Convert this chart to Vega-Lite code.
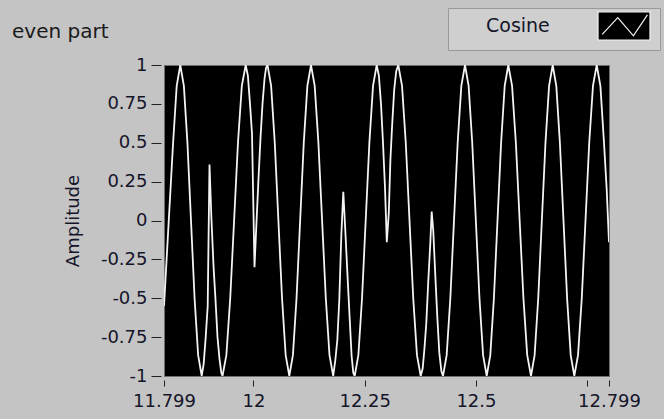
{
  "$schema": "https://vega.github.io/schema/vega-lite/v6.json",
  "width": 445,
  "height": 311,
  "autosize": {"type": "none"},
  "padding": {"left": 164, "top": 65, "right": 55, "bottom": 43},
  "background": "#c4c4c4",
  "title": {
    "text": "even part",
    "anchor": "start",
    "frame": "group",
    "orient": "top",
    "dx": -152,
    "dy": 58,
    "offset": 24,
    "font": "DejaVu Sans",
    "fontSize": 20,
    "fontWeight": "normal",
    "color": "#1a1a1a"
  },
  "data": {
    "values": [
      {"t": 11.799, "amplitude": -0.55},
      {"t": 11.81945, "amplitude": 0.5},
      {"t": 11.82754, "amplitude": 0.866},
      {"t": 11.83563, "amplitude": 1},
      {"t": 11.84365, "amplitude": 0.866},
      {"t": 11.85165, "amplitude": 0.5},
      {"t": 11.8677, "amplitude": -0.5},
      {"t": 11.8757, "amplitude": -0.866},
      {"t": 11.88372, "amplitude": -1},
      {"t": 11.88821, "amplitude": -0.92},
      {"t": 11.89271, "amplitude": -0.75},
      {"t": 11.8972, "amplitude": -0.55},
      {"t": 11.90125, "amplitude": 0.36},
      {"t": 11.90529, "amplitude": 0.03},
      {"t": 11.91024, "amplitude": -0.29},
      {"t": 11.91473, "amplitude": -0.51},
      {"t": 11.91922, "amplitude": -0.75},
      {"t": 11.92372, "amplitude": -0.89},
      {"t": 11.92776, "amplitude": -0.98},
      {"t": 11.93046, "amplitude": -1},
      {"t": 11.93916, "amplitude": -0.866},
      {"t": 11.94783, "amplitude": -0.5},
      {"t": 11.96522, "amplitude": 0.5},
      {"t": 11.9739, "amplitude": 0.866},
      {"t": 11.9826, "amplitude": 1},
      {"t": 11.98754, "amplitude": 0.93},
      {"t": 11.99226, "amplitude": 0.75},
      {"t": 11.99675, "amplitude": 0.56},
      {"t": 12.00237, "amplitude": -0.3},
      {"t": 12.00687, "amplitude": -0.01},
      {"t": 12.01136, "amplitude": 0.27},
      {"t": 12.01585, "amplitude": 0.53},
      {"t": 12.02035, "amplitude": 0.75},
      {"t": 12.02484, "amplitude": 0.91},
      {"t": 12.02821, "amplitude": 0.98},
      {"t": 12.03158, "amplitude": 1},
      {"t": 12.03974, "amplitude": 0.866},
      {"t": 12.04792, "amplitude": 0.5},
      {"t": 12.06424, "amplitude": -0.5},
      {"t": 12.07242, "amplitude": -0.866},
      {"t": 12.08057, "amplitude": -1},
      {"t": 12.08871, "amplitude": -0.866},
      {"t": 12.09682, "amplitude": -0.5},
      {"t": 12.11309, "amplitude": 0.5},
      {"t": 12.1212, "amplitude": 0.866},
      {"t": 12.12934, "amplitude": 1},
      {"t": 12.13765, "amplitude": 0.866},
      {"t": 12.14597, "amplitude": 0.5},
      {"t": 12.1626, "amplitude": -0.5},
      {"t": 12.17091, "amplitude": -0.866},
      {"t": 12.17922, "amplitude": -1},
      {"t": 12.18394, "amplitude": -0.9},
      {"t": 12.18844, "amplitude": -0.77},
      {"t": 12.19293, "amplitude": -0.51},
      {"t": 12.19743, "amplitude": -0.1},
      {"t": 12.20192, "amplitude": 0.185},
      {"t": 12.20619, "amplitude": -0.05},
      {"t": 12.21113, "amplitude": -0.34},
      {"t": 12.21608, "amplitude": -0.62},
      {"t": 12.22057, "amplitude": -0.87},
      {"t": 12.22439, "amplitude": -0.98},
      {"t": 12.22754, "amplitude": -1},
      {"t": 12.23579, "amplitude": -0.866},
      {"t": 12.24401, "amplitude": -0.5},
      {"t": 12.26051, "amplitude": 0.5},
      {"t": 12.26873, "amplitude": 0.866},
      {"t": 12.27698, "amplitude": 1},
      {"t": 12.28192, "amplitude": 0.93},
      {"t": 12.28664, "amplitude": 0.75},
      {"t": 12.29113, "amplitude": 0.5},
      {"t": 12.29563, "amplitude": 0.21},
      {"t": 12.29967, "amplitude": -0.14},
      {"t": 12.30417, "amplitude": 0.05},
      {"t": 12.30776, "amplitude": 0.39},
      {"t": 12.31181, "amplitude": 0.62},
      {"t": 12.3163, "amplitude": 0.84},
      {"t": 12.3208, "amplitude": 0.96},
      {"t": 12.32552, "amplitude": 1},
      {"t": 12.3339, "amplitude": 0.866},
      {"t": 12.3423, "amplitude": 0.5},
      {"t": 12.35907, "amplitude": -0.5},
      {"t": 12.36747, "amplitude": -0.866},
      {"t": 12.37585, "amplitude": -1},
      {"t": 12.38035, "amplitude": -0.95},
      {"t": 12.38439, "amplitude": -0.82},
      {"t": 12.38844, "amplitude": -0.66},
      {"t": 12.39271, "amplitude": -0.4},
      {"t": 12.3972, "amplitude": -0.16},
      {"t": 12.40057, "amplitude": 0.057},
      {"t": 12.40417, "amplitude": -0.07},
      {"t": 12.40844, "amplitude": -0.34},
      {"t": 12.41316, "amplitude": -0.62},
      {"t": 12.41765, "amplitude": -0.85},
      {"t": 12.42237, "amplitude": -0.97},
      {"t": 12.42597, "amplitude": -1},
      {"t": 12.43421, "amplitude": -0.866},
      {"t": 12.44244, "amplitude": -0.5},
      {"t": 12.45893, "amplitude": 0.5},
      {"t": 12.46716, "amplitude": 0.866},
      {"t": 12.4754, "amplitude": 1},
      {"t": 12.48354, "amplitude": 0.866},
      {"t": 12.49165, "amplitude": 0.5},
      {"t": 12.50792, "amplitude": -0.5},
      {"t": 12.51603, "amplitude": -0.866},
      {"t": 12.52417, "amplitude": -1},
      {"t": 12.53226, "amplitude": -0.866},
      {"t": 12.54035, "amplitude": -0.5},
      {"t": 12.55653, "amplitude": 0.5},
      {"t": 12.56462, "amplitude": 0.866},
      {"t": 12.57271, "amplitude": 1},
      {"t": 12.5812, "amplitude": 0.866},
      {"t": 12.58972, "amplitude": 0.5},
      {"t": 12.60671, "amplitude": -0.5},
      {"t": 12.61522, "amplitude": -0.866},
      {"t": 12.62372, "amplitude": -1},
      {"t": 12.63185, "amplitude": -0.866},
      {"t": 12.63997, "amplitude": -0.5},
      {"t": 12.65624, "amplitude": 0.5},
      {"t": 12.66435, "amplitude": 0.866},
      {"t": 12.67248, "amplitude": 1},
      {"t": 12.68057, "amplitude": 0.866},
      {"t": 12.68866, "amplitude": 0.5},
      {"t": 12.70484, "amplitude": -0.5},
      {"t": 12.71293, "amplitude": -0.866},
      {"t": 12.72102, "amplitude": -1},
      {"t": 12.7294, "amplitude": -0.866},
      {"t": 12.73781, "amplitude": -0.5},
      {"t": 12.75457, "amplitude": 0.5},
      {"t": 12.76298, "amplitude": 0.866},
      {"t": 12.77136, "amplitude": 1},
      {"t": 12.77967, "amplitude": 0.866},
      {"t": 12.78776, "amplitude": 0.5},
      {"t": 12.79383, "amplitude": 0.2},
      {"t": 12.799, "amplitude": -0.14}
    ]
  },
  "mark": {"type": "line", "strokeWidth": 1.8, "clip": true},
  "encoding": {
    "x": {
      "field": "t",
      "type": "quantitative",
      "scale": {"domain": [11.799, 12.799], "nice": false, "zero": false},
      "axis": {
        "title": null,
        "values": [11.799, 12, 12.25, 12.5, 12.75, 12.799],
        "labelExpr": "datum.value == 12.75 ? '' : '' + datum.value",
        "domain": false,
        "grid": false,
        "offset": 4,
        "tickSize": 6,
        "tickColor": "#222222",
        "labelPadding": 6,
        "labelFont": "DejaVu Sans",
        "labelFontSize": 18,
        "labelColor": "#15152a",
        "labelOverlap": false,
        "labelFlush": false
      }
    },
    "y": {
      "field": "amplitude",
      "type": "quantitative",
      "scale": {"domain": [-1, 1], "nice": false, "zero": false},
      "axis": {
        "title": "Amplitude",
        "values": [-1, -0.75, -0.5, -0.25, 0, 0.25, 0.5, 0.75, 1],
        "labelExpr": "'' + datum.value",
        "domain": false,
        "grid": false,
        "offset": 3,
        "tickSize": 10,
        "tickColor": "#222222",
        "labelPadding": 4,
        "labelFont": "DejaVu Sans",
        "labelFontSize": 18,
        "labelColor": "#15152a",
        "labelOverlap": false,
        "titleFont": "DejaVu Sans",
        "titleFontSize": 18,
        "titleFontWeight": "normal",
        "titleColor": "#15152a",
        "titlePadding": 18
      }
    },
    "color": {
      "datum": "Cosine",
      "scale": {"range": ["#f4f4f4"]},
      "legend": {
        "title": null,
        "orient": "none",
        "legendX": 284,
        "legendY": -57,
        "fillColor": "#cfcfcf",
        "strokeColor": "#9a9a9a",
        "padding": 7,
        "labelFont": "DejaVu Sans",
        "labelFontSize": 19,
        "labelColor": "#15152a",
        "labelOffset": 9,
        "symbolSize": 400,
        "symbolType": "M13.2,-1.4H18.4V1.4H13.2Z M13.62,0.84L15.18,-0.84L16.74,0.98L18.14,-1.12L16.74,0.98L15.18,-0.84Z",
        "symbolFillColor": "black",
        "symbolStrokeColor": "white",
        "symbolStrokeWidth": 1.2
      }
    }
  },
  "config": {
    "view": {"fill": "black", "stroke": "#6e6e6e", "strokeWidth": 1}
  }
}
